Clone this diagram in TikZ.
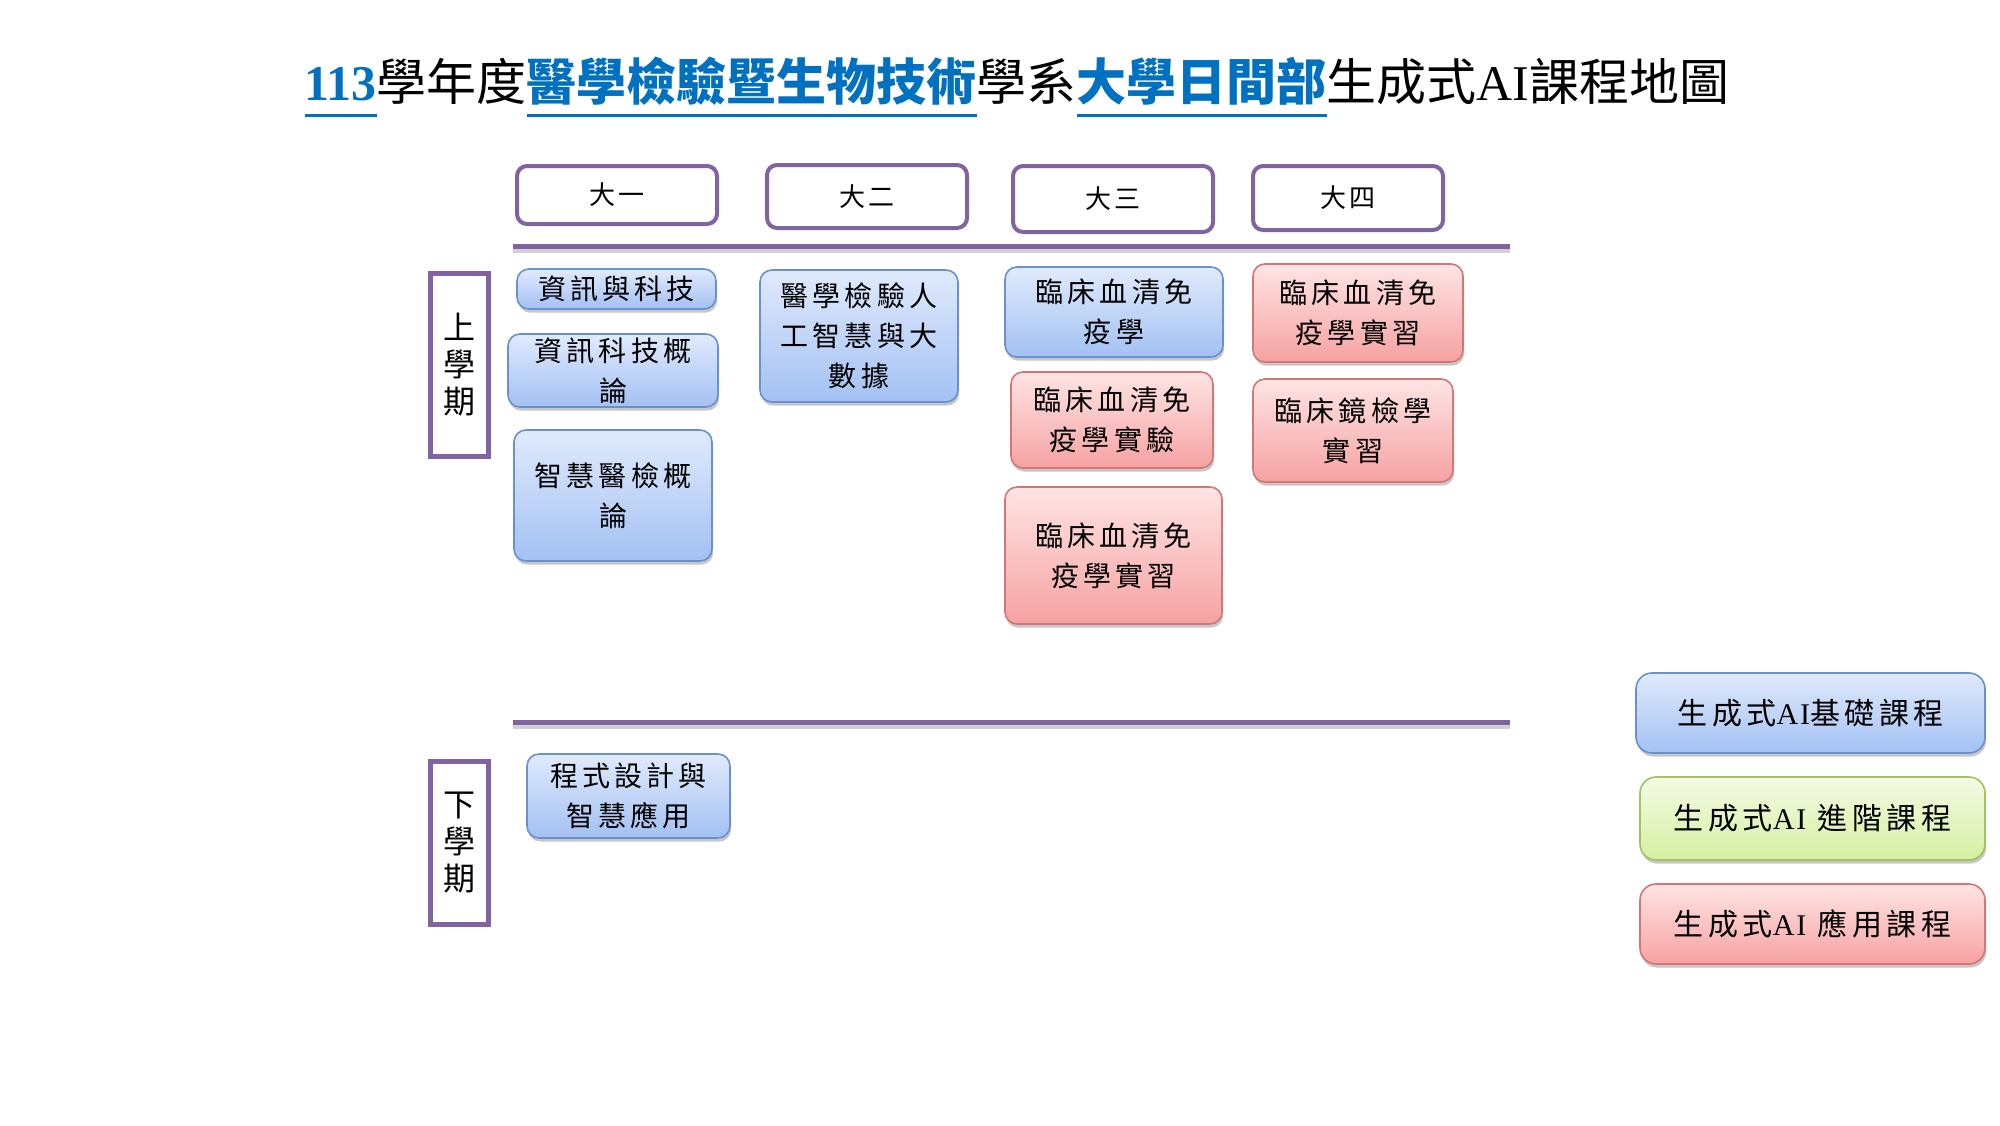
\documentclass[tikz,border=0pt]{standalone}
\usepackage{fontspec}
\setmainfont{Liberation Serif}
\newfontfamily\cjkT{Noto Sans CJK TC}
\newfontfamily\cjkS[LetterSpace=15]{Noto Sans CJK TC}
\newfontfamily\latS[LetterSpace=6]{Liberation Serif}
\usetikzlibrary{shadows}
\definecolor{purp}{HTML}{8064A2}
\definecolor{tblue}{RGB}{0,112,192}
\definecolor{bluetop}{RGB}{224,234,252}
\definecolor{bluebot}{RGB}{163,193,243}
\definecolor{bluedraw}{RGB}{105,145,205}
\definecolor{redtop}{RGB}{255,228,228}
\definecolor{redbot}{RGB}{246,162,162}
\definecolor{reddraw}{RGB}{212,118,118}
\definecolor{grntop}{RGB}{244,250,228}
\definecolor{grnbot}{RGB}{214,240,160}
\definecolor{grndraw}{RGB}{158,196,98}
\newcommand\tul[1]{{\setbox0\hbox{#1}\rlap{\raisebox{-8.5pt}{\rule{\wd0}{1.6pt}}}\box0}}
\tikzset{
  sz/.style 2 args={minimum width=#1*0.5pt, minimum height=#2*0.5pt},
  shad/.style={drop shadow={shadow xshift=0.6pt, shadow yshift=-1.8pt, opacity=0.22, fill=black}},
  course/.style={rounded corners=6pt, line width=0.8pt, align=center, inner sep=0pt,
    font=\fontsize{14}{20}\selectfont\cjkS, shad},
  basic/.style={course, draw=bluedraw, top color=bluetop, bottom color=bluebot},
  apply/.style={course, draw=reddraw, top color=redtop, bottom color=redbot},
  adv/.style={course, draw=grndraw, top color=grntop, bottom color=grnbot},
  legend/.style={rounded corners=8pt, font=\fontsize{15}{18}\selectfont\cjkS},
  yearbox/.style={draw=purp, line width=2pt, rounded corners=5pt, fill=white, inner sep=0pt,
    font=\fontsize{13}{15}\selectfont\cjkS},
  termbox/.style={draw=purp, line width=2.5pt, fill=white, inner sep=0pt, align=center,
    font=\fontsize{16}{18.5}\selectfont\cjkT},
  rule/.style={draw=purp, line width=2.5pt},
  ruleshade/.style={draw=black!18, line width=2pt},
}
\begin{document}
\begin{tikzpicture}[x=0.5pt,y=-0.5pt]
\useasboundingbox (0,0) rectangle (2000,1125);
% title
\node (title) at (1017,87) {\fontsize{25}{28}\selectfont
  \textcolor{tblue}{\tul{\textbf{113}}}{\cjkT 學年度}\textcolor{tblue}{\tul{\textbf{\cjkT 醫學檢驗暨生物技術}}}{\cjkT 學系}\textcolor{tblue}{\tul{\textbf{\cjkT 大學日間部}}}{\cjkT 生成式}AI{\cjkT 課程地圖}};
% year headers
\node[yearbox, sz={200}{58}] (y1) at (617,195) {大一};
\node[yearbox, sz={200}{63}] (y2) at (867,196.5) {大二};
\node[yearbox, sz={200}{66}] (y3) at (1113,199) {大三};
\node[yearbox, sz={190}{64}] (y4) at (1348,198) {大四};
% rules
\coordinate (r1a) at (513,246); \coordinate (r1b) at (1510,246);
\coordinate (r2a) at (513,722); \coordinate (r2b) at (1510,722);
\draw[ruleshade] ([yshift=-2.5pt]r1a) -- ([yshift=-2.5pt]r1b);
\draw[rule] (r1a) -- (r1b);
\draw[ruleshade] ([yshift=-2.5pt]r2a) -- ([yshift=-2.5pt]r2b);
\draw[rule] (r2a) -- (r2b);
% term labels
\node[termbox, sz={58}{183}] (t1) at (459.5,365) {上\\學\\期};
\node[termbox, sz={58}{163}] (t2) at (459.5,843) {下\\學\\期};
% year 1
\node[basic, sz={199}{40}] (c1) at (616.5,289) {資訊與科技};
\node[basic, sz={210}{73}] (c2) at (613,370.5) {資訊科技概\\論};
\node[basic, sz={198}{131}] (c3) at (613,495.5) {智慧醫檢概\\論};
\node[basic, sz={203}{84}] (c10) at (628.5,796) {程式設計與\\智慧應用};
% year 2
\node[basic, sz={198}{132}] (c4) at (859,336) {醫學檢驗人\\工智慧與大\\數據};
% year 3
\node[basic, sz={218}{90}] (c5) at (1114,312) {臨床血清免\\疫學};
\node[apply, sz={202}{96}] (c6) at (1112,420) {臨床血清免\\疫學實驗};
\node[apply, sz={217}{137}] (c7) at (1113.5,555.5) {臨床血清免\\疫學實習};
% year 4
\node[apply, sz={210}{98}] (c8) at (1358,313) {臨床血清免\\疫學實習};
\node[apply, sz={200}{103}] (c9) at (1353,430.5) {臨床鏡檢學\\實習};
% legend
\node[basic, legend, sz={349}{80}] (l1) at (1810.5,713) {生成式{\latS AI}基礎課程};
\node[adv, legend, sz={345}{83}] (l2) at (1812.5,818.5) {生成式{\latS AI} 進階課程};
\node[apply, legend, sz={345}{80}] (l3) at (1812.5,924) {生成式{\latS AI} 應用課程};
\end{tikzpicture}
\end{document}
